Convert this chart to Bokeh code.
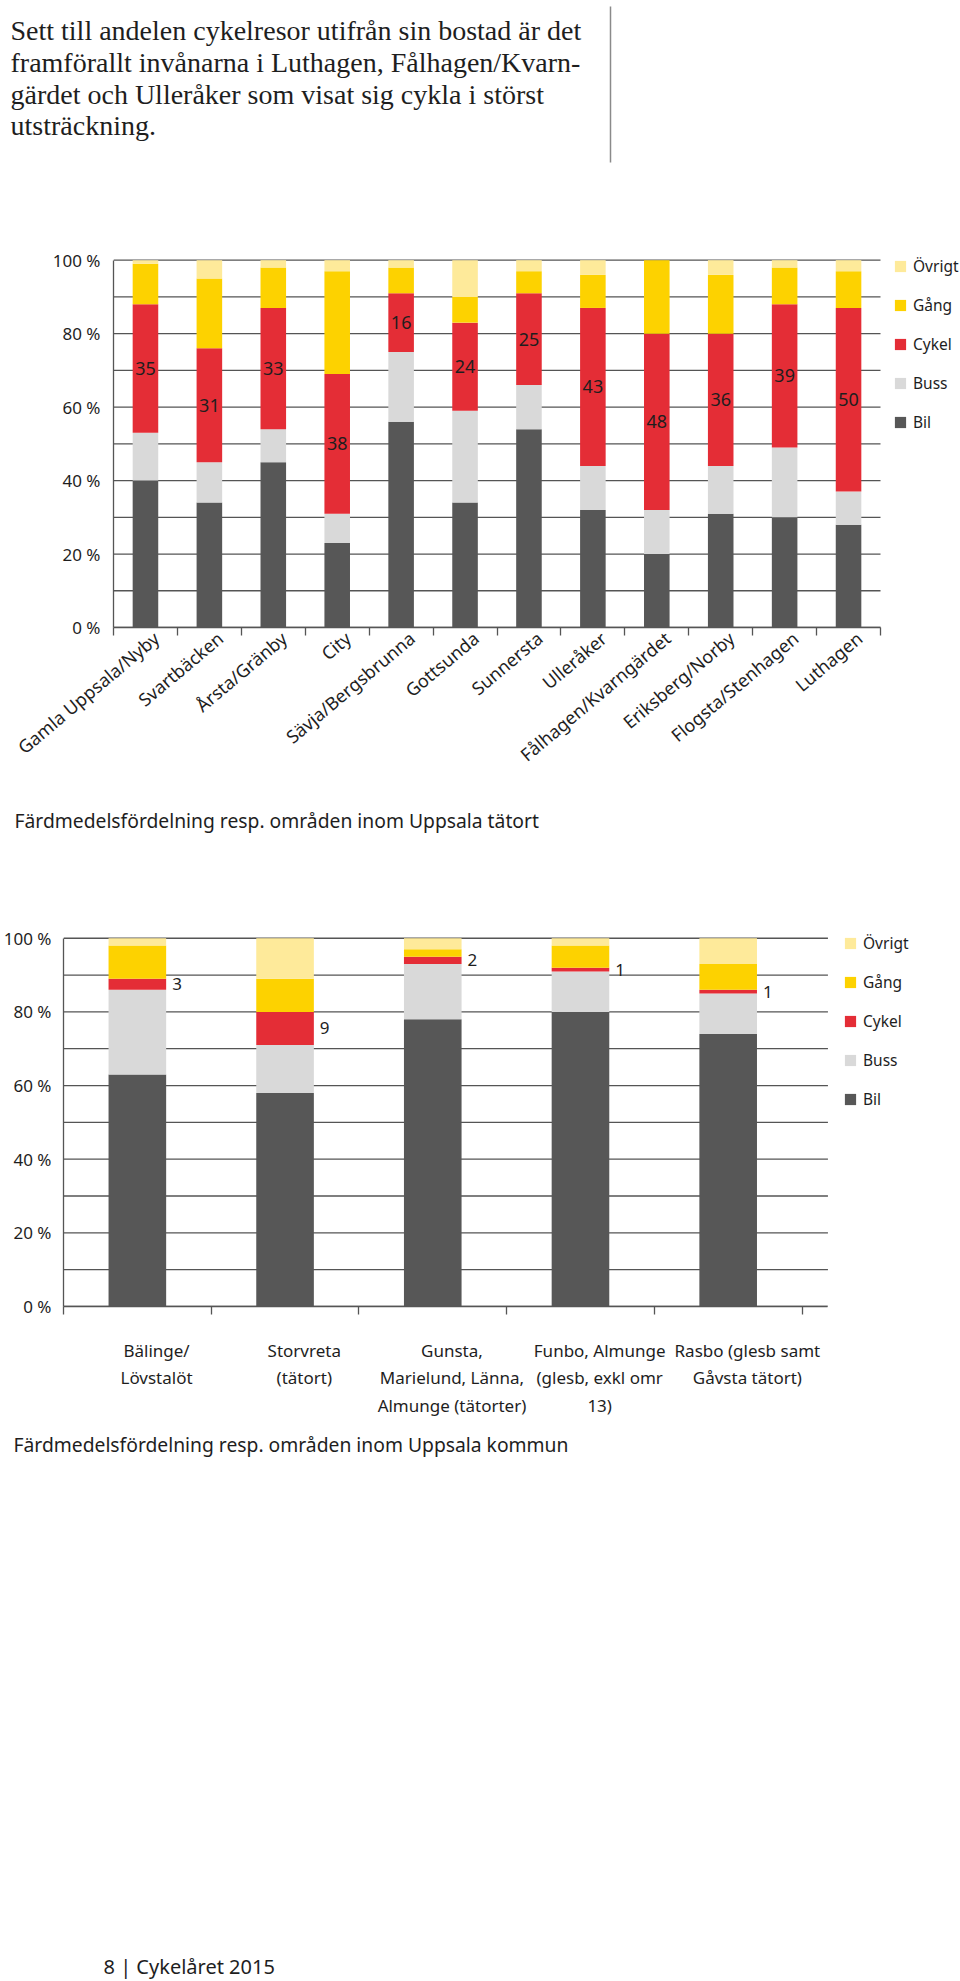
import math
from bokeh.plotting import figure
from bokeh.models import (Range1d, FixedTicker, LinearAxis, Legend, LegendItem,
                          ColumnDataSource)
from bokeh.layouts import column
from bokeh.embed import file_html
from bokeh.resources import INLINE
from bokeh.core.properties import value

# ---------------- data ----------------
modes = ["Bil", "Buss", "Cykel", "Gång", "Övrigt"]
mode_keys = ["bil", "buss", "cykel", "gang", "ovrigt"]
mode_colors = ["#575757", "#d9d9d9", "#e42d36", "#fdd200", "#feea9a"]

areas_tatort = ["Gamla Uppsala/Nyby", "Svartbäcken", "Årsta/Gränby", "City",
                "Sävja/Bergsbrunna", "Gottsunda", "Sunnersta", "Ulleråker",
                "Fålhagen/Kvarngärdet", "Eriksberg/Norby", "Flogsta/Stenhagen",
                "Luthagen"]
bil_tatort = [40, 34, 45, 23, 56, 34, 54, 32, 20, 31, 30, 28]
buss_tatort = [13, 11, 9, 8, 19, 25, 12, 12, 12, 13, 19, 9]
cykel_tatort = [35, 31, 33, 38, 16, 24, 25, 43, 48, 36, 39, 50]
gang_tatort = [11, 19, 11, 28, 7, 7, 6, 9, 20, 16, 10, 10]
ovrigt_tatort = [1, 5, 2, 3, 2, 10, 3, 4, 0, 4, 2, 3]

areas_kommun = ["Bälinge/\nLövstalöt", "Storvreta\n(tätort)",
                "Gunsta,\nMarielund, Länna,\nAlmunge (tätorter)",
                "Funbo, Almunge\n(glesb, exkl omr\n13)",
                "Rasbo (glesb samt\nGåvsta tätort)"]
bil_kommun = [63, 58, 78, 80, 74]
buss_kommun = [23, 13, 15, 11, 11]
cykel_kommun = [3, 9, 2, 1, 1]
gang_kommun = [9, 9, 2, 6, 7]
ovrigt_kommun = [2, 11, 3, 2, 7]

y_ticks = [0, 20, 40, 60, 80, 100]
y_tick_labels = ["0 %", "20 %", "40 %", "60 %", "80 %", "100 %"]
grid_ticks = [0, 10, 20, 30, 40, 50, 60, 70, 80, 90, 100]

title_lines = ["Sett till andelen cykelresor utifrån sin bostad är det",
               "framförallt invånarna i Luthagen, Fålhagen/Kvarn-",
               "gärdet och Ulleråker som visat sig cykla i störst",
               "utsträckning."]
caption_tatort = "Färdmedelsfördelning resp. områden inom Uppsala tätort"
caption_kommun = "Färdmedelsfördelning resp. områden inom Uppsala kommun"
footer_text = "8 | Cykelåret 2015"

# ---------------- style ----------------
PAGE_W = 960
FONT = "Noto Sans"
GRID_C = "#555555"
TXT = "#1e1e1e"
Y_TOP = 104


def base_fig(h, **kw):
    f = figure(width=PAGE_W, height=h, output_backend="svg", toolbar_location=None,
               x_axis_location=None, y_axis_location=None, frame_align=False, **kw)
    f.grid.visible = False
    f.outline_line_color = None
    f.background_fill_color = "white"
    f.border_fill_color = "white"
    return f


def text_fig(h):
    return base_fig(h, x_range=Range1d(0, PAGE_W), y_range=Range1d(h, 0), min_border=0)


def stacked_chart(h, cats, series, cat_px, grid_px, bt, bb, bl, bar_w, y_standoff,
                  label_angle, label_shift, label_standoff, label_size, inside, leg_vy):
    n = len(cats)
    frame_w = PAGE_W - bl
    x_end = n * frame_w / cat_px
    grid_end = n * grid_px / cat_px
    p = base_fig(h, x_range=Range1d(0, x_end), y_range=Range1d(0, Y_TOP),
                 min_border_top=bt, min_border_bottom=bb,
                 min_border_left=bl, min_border_right=0)
    xs = [i + 0.5 for i in range(n)]
    data = dict(x=xs)
    for k, s in zip(mode_keys, series):
        data[k] = s
    bil, buss, cykel = series[0], series[1], series[2]
    data["mid"] = [b + u + c / 2 for b, u, c in zip(bil, buss, cykel)]
    data["lab"] = [str(c) for c in cykel]
    data["xr"] = [x + bar_w / 2 for x in xs]
    src = ColumnDataSource(data)

    # horizontal gridlines limited to the plotting area (legend sits to the right)
    p.segment(x0=[0] * len(grid_ticks), x1=[grid_end] * len(grid_ticks),
              y0=grid_ticks, y1=grid_ticks, line_color=GRID_C, line_width=1.3)

    rs = p.vbar_stack(mode_keys, x="x", width=bar_w, fill_color=mode_colors,
                      line_color=None, source=src)

    if inside:
        p.text(x="x", y="mid", text="lab", source=src, text_align="center",
               text_baseline="middle", text_font=value(FONT),
               text_font_size="18px", text_color=TXT)
    else:
        p.text(x="xr", y="mid", text="lab", source=src, text_align="left",
               text_baseline="middle", x_offset=6, text_font=value(FONT),
               text_font_size="17px", text_color=TXT)

    yax = LinearAxis(ticker=FixedTicker(ticks=y_ticks), bounds=(0, 100),
                     major_label_overrides=dict(zip(y_ticks, y_tick_labels)),
                     major_tick_out=0, major_tick_in=0, minor_tick_out=0, minor_tick_in=0,
                     axis_line_color=GRID_C, axis_line_width=1.3,
                     major_label_standoff=y_standoff,
                     major_label_text_font=FONT, major_label_text_font_size="17px",
                     major_label_text_color=TXT)
    p.add_layout(yax, "left")

    lab_ticks = [x + label_shift for x in xs]
    xax = LinearAxis(ticker=FixedTicker(ticks=lab_ticks, minor_ticks=list(range(n + 1))),
                     bounds=(0, grid_end),
                     major_label_overrides=dict(zip(lab_ticks, cats)),
                     major_label_orientation=label_angle,
                     major_tick_out=0, major_tick_in=0,
                     minor_tick_out=8, minor_tick_in=0,
                     minor_tick_line_color=GRID_C, minor_tick_line_width=1.3,
                     axis_line_color=GRID_C, axis_line_width=1.3,
                     major_label_standoff=label_standoff,
                     major_label_text_font=FONT, major_label_text_font_size=label_size,
                     major_label_text_color=TXT)
    p.add_layout(xax, "below")

    items = [LegendItem(label=m, renderers=[r]) for m, r in zip(modes, rs)][::-1]
    leg = Legend(items=items, location=(grid_px + 13, leg_vy),
                 glyph_width=14, glyph_height=14, label_height=21,
                 spacing=17, padding=0, margin=0, label_standoff=6,
                 border_line_color=None, background_fill_alpha=0,
                 label_text_font=FONT, label_text_font_size="15.5px",
                 label_text_color=TXT)
    p.add_layout(leg)
    return p


# ---------------- header ----------------
head_h = 200
head = text_fig(head_h)
head.text(x=[10] * len(title_lines), y=[30 + 31.8 * i for i in range(len(title_lines))],
          text=title_lines, text_font=value("Liberation Serif"), text_font_size="28px",
          text_baseline="alphabetic", text_align="left", text_color=TXT)
head.segment(x0=[610], y0=[6], x1=[610], y1=[162], line_color="#8a8a8a", line_width=1.5)

# ---------------- chart 1 ----------------
series_tatort = [bil_tatort, buss_tatort, cykel_tatort, gang_tatort, ovrigt_tatort]
chart1 = stacked_chart(600, areas_tatort, series_tatort, cat_px=767, grid_px=767,
                       bt=45, bb=173, bl=113, bar_w=0.40, y_standoff=13,
                       label_angle=math.radians(40), label_shift=0.17,
                       label_standoff=0, label_size="18px", inside=True, leg_vy=194)

cap1 = text_fig(50)
cap1.text(x=[14], y=[20], text=[caption_tatort], text_font=value(FONT),
          text_font_size="19.3px", text_baseline="alphabetic", text_align="left",
          text_color=TXT)

# ---------------- chart 2 ----------------
series_kommun = [bil_kommun, buss_kommun, cykel_kommun, gang_kommun, ovrigt_kommun]
chart2 = stacked_chart(580, areas_kommun, series_kommun, cat_px=741, grid_px=767,
                       bt=73, bb=124, bl=60, bar_w=0.39, y_standoff=12,
                       label_angle="horizontal", label_shift=0.13,
                       label_standoff=24, label_size="17px", inside=False, leg_vy=196)

cap2 = text_fig(50)
cap2.text(x=[13], y=[14], text=[caption_kommun], text_font=value(FONT),
          text_font_size="19.3px", text_baseline="alphabetic", text_align="left",
          text_color=TXT)

foot_h = 501
foot = text_fig(foot_h)
foot.text(x=[103], y=[486], text=[footer_text], text_font=value(FONT),
          text_font_size="20px", text_baseline="alphabetic", text_align="left",
          text_color=TXT)

layout = column(head, chart1, cap1, chart2, cap2, foot, spacing=0)

with open("out.html", "w") as fh:
    fh.write(file_html(layout, INLINE))
